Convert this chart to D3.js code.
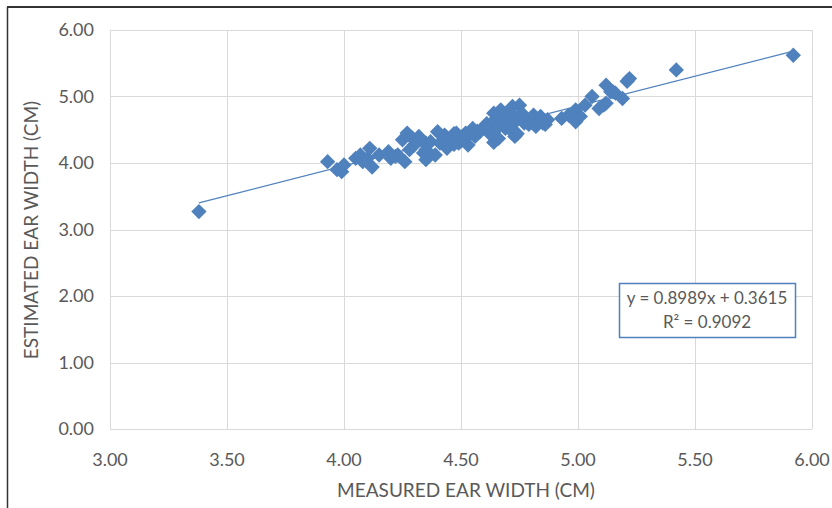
<!DOCTYPE html>
<html>
<head>
<meta charset="utf-8">
<script src="https://cdn.jsdelivr.net/npm/d3@7"></script>
<style>
  html, body { margin: 0; padding: 0; background: #fff; }
  svg text { font-family: Lato, "Noto Sans", sans-serif; fill: #595959; }
</style>
</head>
<body>
<div id="chart"></div>
<script>
// measured vs estimated ear width (cm)
const measured = [
    3.38, 3.93, 3.97, 3.99, 4.00, 4.05, 4.07, 4.10, 4.11, 4.12,
    4.15, 4.19, 4.20, 4.23, 4.26, 4.25, 4.27, 4.28, 4.30, 4.32,
    4.34, 4.35, 4.35, 4.37, 4.35, 4.40, 4.43, 4.41, 4.39, 4.47,
    4.49, 4.51, 4.53, 4.54, 4.55, 4.60, 4.61, 4.64, 4.67, 4.64,
    4.66, 4.64, 4.70, 4.72, 4.71, 4.73, 4.74, 4.75, 4.73, 4.77,
    4.74, 4.80, 4.82, 4.84, 4.85, 4.87, 4.93, 4.96, 4.99, 4.99,
    5.01, 5.03, 5.06, 5.09, 5.12, 5.14, 5.16, 5.12, 5.15, 5.19,
    5.21, 5.22, 5.11, 5.42, 5.92,
    4.45, 4.48, 4.50, 4.52, 4.56, 4.58, 4.62, 4.68, 4.69, 4.76,
    4.78, 4.79, 4.81, 4.83, 4.86, 4.44, 4.47, 4.57, 4.60, 4.65,
    4.70, 4.72, 4.66, 4.62, 4.29, 4.31, 4.22, 4.08
];
const estimated = [
    3.27, 4.02, 3.90, 3.87, 3.97, 4.07, 4.12, 4.07, 4.22, 3.94,
    4.12, 4.17, 4.07, 4.12, 4.02, 4.35, 4.45, 4.20, 4.27, 4.40,
    4.15, 4.30, 4.05, 4.32, 4.20, 4.47, 4.42, 4.30, 4.12, 4.44,
    4.30, 4.40, 4.27, 4.44, 4.52, 4.55, 4.59, 4.75, 4.80, 4.47,
    4.37, 4.31, 4.70, 4.85, 4.55, 4.40, 4.65, 4.87, 4.70, 4.60,
    4.44, 4.67, 4.55, 4.70, 4.60, 4.65, 4.67, 4.72, 4.80, 4.62,
    4.70, 4.87, 5.00, 4.82, 4.90, 5.07, 5.05, 5.17, 5.07, 4.97,
    5.23, 5.27, 4.87, 5.40, 5.62,
    4.35, 4.45, 4.33, 4.45, 4.40, 4.47, 4.50, 4.62, 4.52, 4.75,
    4.62, 4.58, 4.72, 4.62, 4.58, 4.22, 4.28, 4.48, 4.52, 4.67,
    4.58, 4.47, 4.55, 4.45, 4.38, 4.33, 4.10, 4.02
];
const xTicks = [3.0, 3.5, 4.0, 4.5, 5.0, 5.5, 6.0];
const yTicks = [0, 1, 2, 3, 4, 5, 6];
const slope = 0.8989, intercept = 0.3615, rSquared = 0.9092;

const W = 832, H = 508;
const plot = { left: 110, right: 812, top: 30, bottom: 429 };
const blue = "#4F81BD";

const svg = d3.select("#chart").append("svg")
    .attr("width", W)
    .attr("height", H);

// frame around the picture (top and left edge visible)
svg.append("line").attr("x1", 7).attr("x2", W).attr("y1", 7).attr("y2", 7)
    .attr("stroke", "#333").attr("stroke-width", 2);
svg.append("line").attr("x1", 7.5).attr("x2", 7.5).attr("y1", 7).attr("y2", H)
    .attr("stroke", "#333").attr("stroke-width", 1.5);

const x = d3.scaleLinear().domain([3, 6]).range([plot.left, plot.right]);
const y = d3.scaleLinear().domain([0, 6]).range([plot.bottom, plot.top]);

// gridlines
svg.append("g")
    .selectAll("line")
    .data(xTicks)
    .join("line")
    .attr("x1", d => Math.round(x(d)) + 0.5)
    .attr("x2", d => Math.round(x(d)) + 0.5)
    .attr("y1", plot.top)
    .attr("y2", plot.bottom)
    .attr("stroke", "#d9d9d9");

svg.append("g")
    .selectAll("line")
    .data(yTicks)
    .join("line")
    .attr("x1", plot.left)
    .attr("x2", plot.right)
    .attr("y1", d => Math.round(y(d)) + 0.5)
    .attr("y2", d => Math.round(y(d)) + 0.5)
    .attr("stroke", "#d9d9d9");

// tick labels
svg.append("g")
    .selectAll("text")
    .data(xTicks)
    .join("text")
    .attr("x", d => x(d))
    .attr("y", 466)
    .attr("text-anchor", "middle")
    .style("font-size", "18px")
    .text(d => d.toFixed(2));

svg.append("g")
    .selectAll("text")
    .data(yTicks)
    .join("text")
    .attr("x", 94)
    .attr("y", d => y(d) + 6)
    .attr("text-anchor", "end")
    .style("font-size", "18px")
    .text(d => d.toFixed(2));

// axis titles
svg.append("text")
    .attr("x", 466)
    .attr("y", 497)
    .attr("text-anchor", "middle")
    .style("font-size", "19px")
    .text("MEASURED EAR WIDTH (CM)");

svg.append("text")
    .attr("transform", "translate(38,230) rotate(-90)")
    .attr("text-anchor", "middle")
    .style("font-size", "19px")
    .text("ESTIMATED EAR WIDTH (CM)");

// linear trendline across the data range
const [x0, x1] = d3.extent(measured);
svg.append("line")
    .attr("x1", x(x0))
    .attr("y1", y(slope * x0 + intercept))
    .attr("x2", x(x1))
    .attr("y2", y(slope * x1 + intercept))
    .attr("stroke", blue)
    .attr("stroke-width", 1.25);

// diamond markers
const pts = measured.map((m, i) => ({ m, e: estimated[i] }));
const diamond = d3.symbol().type(d3.symbolDiamond2).size(150);
svg.append("g")
    .selectAll("path")
    .data(pts)
    .join("path")
    .attr("d", diamond)
    .attr("transform", d => `translate(${x(d.m)},${y(d.e)})`)
    .attr("fill", blue);

// equation box
const box = svg.append("g").attr("transform", "translate(619,283)");
box.append("rect")
    .attr("x", 0.5).attr("y", 0.5)
    .attr("width", 176).attr("height", 54)
    .attr("fill", "#fff")
    .attr("stroke", blue)
    .attr("stroke-width", 1.5);
box.append("text")
    .attr("x", 88).attr("y", 21)
    .attr("text-anchor", "middle")
    .style("font-size", "17px")
    .text(`y = ${slope}x + ${intercept}`);
box.append("text")
    .attr("x", 88).attr("y", 45)
    .attr("text-anchor", "middle")
    .style("font-size", "17px")
    .text(`R² = ${rSquared}`);
</script>
</body>
</html>
